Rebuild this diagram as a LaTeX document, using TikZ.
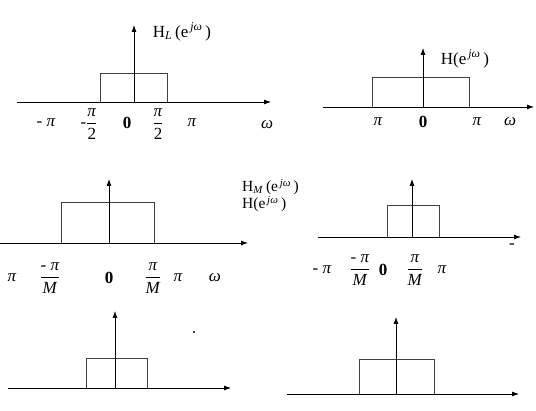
\documentclass[tikz,border=0pt]{standalone}
\usepackage{fontspec}
\setmainfont{Liberation Serif}
\usetikzlibrary{arrows.meta}
\newcommand{\myfr}[2]{$\displaystyle\frac{\hbox{#1}}{\hbox{#2}}$}
\newcommand{\ipi}{\textit{π}}
\begin{document}
\begin{tikzpicture}[x=1pt,y=-1pt,
  ax/.style={line width=0.8pt,-{Latex[length=7pt,width=5pt]}},
  bx/.style={line width=0.7pt,draw=black!75},
  lab/.style={font=\fontsize{17}{19}\selectfont,inner sep=0pt},
  mlab/.style={font=\fontsize{15.5}{17}\selectfont,inner sep=0pt},
  tk/.style={font=\fontsize{17}{19}\selectfont,inner sep=0pt}]
\useasboundingbox[fill=white] (0,0) rectangle (536,411);
% panel 1
\coordinate (a1l) at (17,102); \coordinate (a1r) at (271,102);
\coordinate (a1o) at (134,102); \coordinate (a1t) at (134,25);
\draw[bx] (100,102) rectangle (167,73);
\draw[ax] (a1l) -- (a1r); \draw[ax] (a1o) -- (a1t);
\node[lab] (l1) at (182,32) {H\textsubscript{\textit{L}}\,(e\textsuperscript{\,\textit{jω}}\,)};
\node[tk] (t11) at (46,123) {-\ \ipi};
\node[tk] (t12) at (89,124) {-\myfr{\ipi}{2}};
\node[tk] (t13) at (127,123) {\textbf{0}};
\node[tk] (t14) at (158,124) {\myfr{\ipi}{2}};
\node[tk] (t15) at (192,123) {\ipi};
\node[tk] (t16) at (267,125) {\textit{ω}};
% panel 2
\coordinate (a2l) at (323,107); \coordinate (a2r) at (534,107);
\coordinate (a2o) at (423,107); \coordinate (a2t) at (423,48);
\draw[bx] (372,107) rectangle (469,77);
\draw[ax] (a2l) -- (a2r); \draw[ax] (a2o) -- (a2t);
\node[lab] (l2) at (465,59) {H(e\textsuperscript{\,\textit{jω}}\,)};
\node[tk] (t21) at (378,122) {\ipi};
\node[tk] (t22) at (423,122) {\textbf{0}};
\node[tk] (t23) at (477,122) {\ipi};
\node[tk] (t24) at (510,122) {\textit{ω}};
% panel 3
\coordinate (a3l) at (0,243); \coordinate (a3r) at (248,243);
\coordinate (a3o) at (109,243); \coordinate (a3t) at (109,179);
\draw[bx] (61,243) rectangle (154,202);
\draw[ax] (a3l) -- (a3r); \draw[ax] (a3o) -- (a3t);
\node[tk] (t31) at (12,278) {\ipi};
\node[tk] (t32) at (50,278) {\myfr{-\ \ipi}{\textit{M}}};
\node[tk] (t33) at (109,278) {\textbf{0}};
\node[tk] (t34) at (153,278) {\myfr{\ipi}{\textit{M}}};
\node[tk] (t35) at (178,278) {\ipi};
\node[tk] (t36) at (215,278) {\textit{ω}};
% middle labels
\node[mlab,anchor=west] (l3) at (242,187) {H\textsubscript{\textit{M}}\,(e\textsuperscript{\,\textit{jω}}\,)};
\node[mlab,anchor=west] (l4) at (242,204) {H(e\textsuperscript{\,\textit{jω}}\,)};
% panel 4
\coordinate (a4l) at (318,237); \coordinate (a4r) at (521,237);
\coordinate (a4o) at (412,237); \coordinate (a4t) at (412,179);
\draw[bx] (387,237) rectangle (439,205);
\draw[ax] (a4l) -- (a4r); \draw[ax] (a4o) -- (a4t);
\node[tk] (t41) at (322,270) {-\ \ipi};
\node[tk] (t42) at (360,270) {\myfr{-\ \ipi}{\textit{M}}};
\node[tk] (t43) at (383,270) {\textbf{0}};
\node[tk] (t44) at (415,270) {\myfr{\ipi}{\textit{M}}};
\node[tk] (t45) at (442,270) {\ipi};
\node[tk] (t46) at (512,246) {-};
% panel 5
\coordinate (a5l) at (8,388); \coordinate (a5r) at (231,388);
\coordinate (a5o) at (115,388); \coordinate (a5t) at (115,311);
\draw[bx] (86,388) rectangle (147,358);
\draw[ax] (a5l) -- (a5r); \draw[ax] (a5o) -- (a5t);
\fill (194,332) circle (1.2pt);
% panel 6
\coordinate (a6l) at (287,394); \coordinate (a6r) at (519,394);
\coordinate (a6o) at (396,394); \coordinate (a6t) at (396,317);
\draw[bx] (359,394) rectangle (434,359);
\draw[ax] (a6l) -- (a6r); \draw[ax] (a6o) -- (a6t);
\end{tikzpicture}
\end{document}
